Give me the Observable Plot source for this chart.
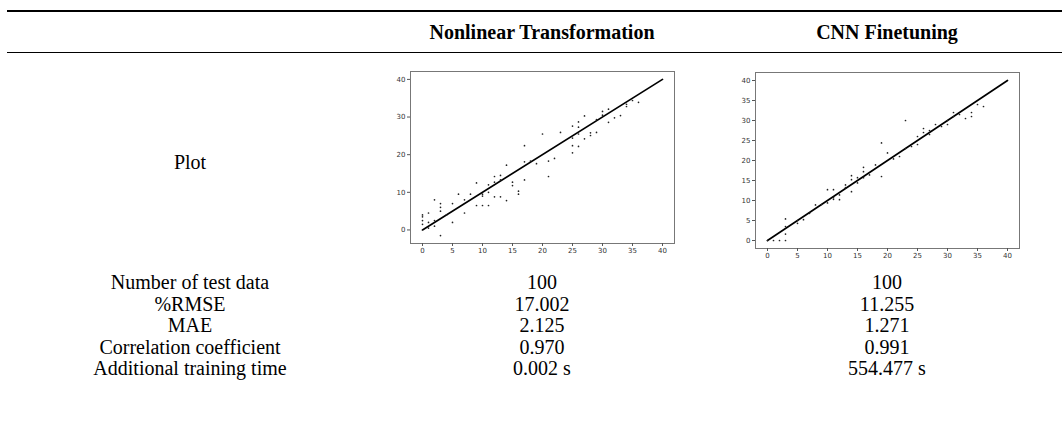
<!DOCTYPE html>
<html><head><meta charset="utf-8">
<script src="https://cdn.jsdelivr.net/npm/d3@7"></script>
<script src="https://cdn.jsdelivr.net/npm/@observablehq/plot@0.6"></script>
<style>
body{margin:0;background:#fff;}
#wrap{position:relative;width:1062px;height:423px;font-family:"Liberation Serif",serif;color:#000;overflow:hidden;}
.t{position:absolute;white-space:nowrap;transform:translate(-50%,-50%);font-size:20px;line-height:1;}
.b{font-weight:bold;}
.rule{position:absolute;left:7px;right:0;background:#000;}
.plot{position:absolute;}
</style></head><body><div id="wrap"></div>
<script>
// ---- table text ----
const columns = ["Nonlinear Transformation", "CNN Finetuning"];
const rowLabels = ["Number of test data", "%RMSE", "MAE", "Correlation coefficient", "Additional training time"];
const nlValues = ["100", "17.002", "2.125", "0.970", "0.002 s"];
const cnnValues = ["100", "11.255", "1.271", "0.991", "554.477 s"];
const plotRowLabel = "Plot";

// ---- scatter data: Nonlinear Transformation ----
const nlX = [0,0,0,0,1,1,1,2,2,2,3,3,3,3,4,5,5,6,7,7,8,9,9,10,10,10,11,11,11,
  12,12,12,13,13,13,14,14,15,15,16,16,17,17,17,18,19,20,21,21,22,23,25,25,25,25,
  26,26,26,26,27,27,28,28,29,29,30,30,31,31,32,33,34,34,35,36];
const nlY = [1.5,2.5,3.5,4,0.5,2,4.5,1,2.5,8,5,6,7,-1.5,4,7,2,9.5,4.5,8,9.5,12.5,6.5,9.5,9,6.5,6.5,10,12,
  14.2,12.7,8.8,14.5,13.3,8.8,17.2,7.8,12.7,11.8,10.3,9.5,22.4,18.1,13.3,18.3,17.6,25.5,18.3,14.2,19,25.9,27.6,24.4,22.4,20.5,
  28.7,27.3,25.5,22.2,30.3,24.2,25.8,25.1,25.9,29.3,31.5,30.5,32.1,28.6,29.8,30.4,33.4,32.8,34.4,33.9];

// ---- scatter data: CNN Finetuning ----
const cnnX = [0,1,2,3,3,3,3,5,5,6,7,8,9,10,10,11,11,11,12,12,13,13,14,14,14,15,15,16,16,16,17,18,19,19,20,21,
  22,23,23,24,25,25,26,26,27,27,28,29,30,30,31,31,32,33,34,34,35,36];
const cnnY = [0,0,0,0,1.6,3.5,5.4,4.3,5,5.2,6.8,8.9,9,12.7,9.4,12.7,10.7,10.3,11.4,10.2,13.9,13.2,16.2,15.2,12.2,15.7,14.4,18.3,17.2,15.7,16.4,18.9,24.4,16,21.9,20.4,
  21,30,23,23.5,24,26,27,28,27.5,26.5,29,28.5,29,30,31,32,31.5,30.5,32,31,34,33.5];

// ideal line endpoints and ticks
const lineX = [0, 40], lineY = [0, 40];
const xTicks = [0,5,10,15,20,25,30,35,40];
const nlYTicks = [0,10,20,30,40];
const cnnYTicks = [0,5,10,15,20,25,30,35,40];

const wrap = document.getElementById("wrap");
function addText(txt, x, y, cls) {
  const d = document.createElement("div");
  d.className = "t" + (cls ? " " + cls : "");
  d.style.left = x + "px"; d.style.top = y + "px";
  d.textContent = txt; wrap.appendChild(d);
}
function addRule(y, h) {
  const d = document.createElement("div");
  d.className = "rule"; d.style.top = y + "px"; d.style.height = h + "px";
  wrap.appendChild(d);
}
const colX = [542, 887], labelX = 190;
addRule(10, 2);
addRule(52, 1);
columns.forEach((c, i) => addText(c, colX[i], 32, "b"));
addText(plotRowLabel, labelX, 162);
const rowY = [282, 303.5, 325, 346.5, 368];
rowLabels.forEach((r, i) => {
  addText(r, labelX, rowY[i]);
  addText(nlValues[i], colX[0], rowY[i]);
  addText(cnnValues[i], colX[1], rowY[i]);
});

function scatter(xs, ys, yDomain, yTicks, frameH, mt) {
  const data = xs.map((x, i) => ({x, y: ys[i]}));
  const line = lineX.map((x, i) => ({x, y: lineY[i]}));
  return Plot.plot({
    width: 320, height: mt + frameH + 27,
    marginLeft: 40, marginRight: 16, marginTop: mt, marginBottom: 27,
    style: {fontFamily: "DejaVu Sans", fontSize: "7px", color: "#333", background: "transparent"},
    x: {domain: [-2, 42], label: null},
    y: {domain: yDomain, label: null},
    marks: [
      Plot.frame({stroke: "#777", strokeWidth: 1}),
      Plot.axisX({ticks: xTicks, tickSize: 3, tickPadding: 2, label: null, stroke: "#555"}),
      Plot.axisY({ticks: yTicks, tickSize: 3, tickPadding: 2, label: null, stroke: "#555"}),
      Plot.line(line, {x: "x", y: "y", stroke: "#000", strokeWidth: 1.7}),
      Plot.dot(data, {x: "x", y: "y", r: 0.85, fill: "#222", stroke: "none"})
    ]
  });
}
const p1 = scatter(nlX, nlY, [-3.6, 42.1], nlYTicks, 172, 11);
p1.classList.add("plot"); p1.style.left = "370px"; p1.style.top = "60px";
wrap.appendChild(p1);
const p2 = scatter(cnnX, cnnY, [-2, 42], cnnYTicks, 176, 12);
p2.classList.add("plot"); p2.style.left = "715px"; p2.style.top = "60px";
wrap.appendChild(p2);
</script></body></html>
